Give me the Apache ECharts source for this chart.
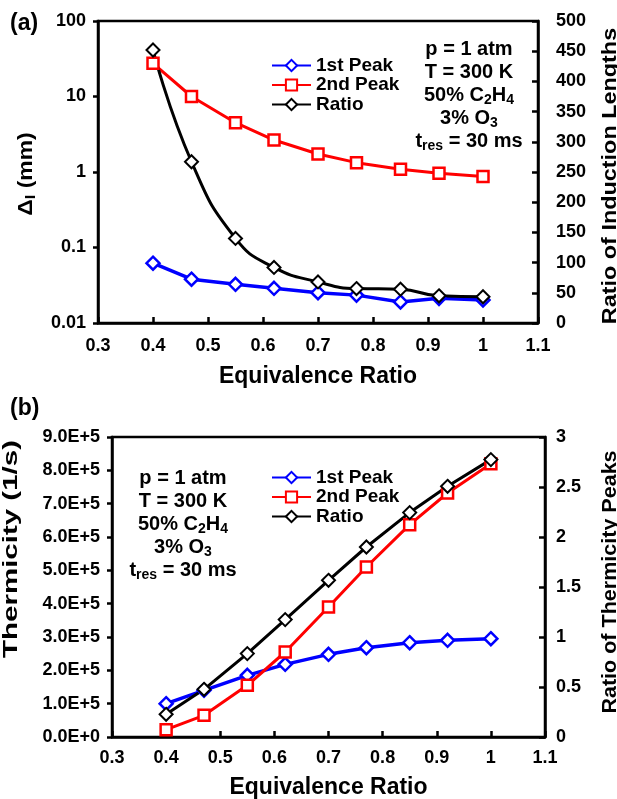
<!DOCTYPE html>
<html><head><meta charset="utf-8">
<script src="https://cdn.jsdelivr.net/npm/echarts@6/dist/echarts.min.js"></script>
<style>html,body{margin:0;padding:0;background:#fff}#c{width:617px;height:799px}</style>
</head><body><div id="c"></div>
<script>
const phi = [0.4, 0.47, 0.55, 0.62, 0.7, 0.77, 0.85, 0.92, 1.0];
// (a) induction lengths (mm) and their ratio
const indFirst = [0.062, 0.038, 0.0325, 0.0288, 0.0252, 0.0234, 0.019, 0.0212, 0.0202];
const indSecond = [27.5, 10, 4.5, 2.65, 1.73, 1.33, 1.09, 0.96, 0.87];
const indRatio = [452, 267, 140, 92, 68, 57, 56, 45, 43.5];
// (b) thermicity peaks (1/s) and their ratio
const thFirst = [1.0e5, 1.4e5, 1.85e5, 2.18e5, 2.48e5, 2.68e5, 2.83e5, 2.9e5, 2.95e5];
const thSecond = [0.22e5, 0.65e5, 1.55e5, 2.55e5, 3.9e5, 5.1e5, 6.37e5, 7.32e5, 8.2e5];
const thRatio = [0.227, 0.477, 0.834, 1.174, 1.567, 1.9, 2.244, 2.507, 2.774];
const legendNames = ['1st Peak', '2nd Peak', 'Ratio'];
const annotation = 'p = 1 atm\nT = 300 K\n50% C{s|2}H{s|4}\n3% O{s|3}\nt{s|res} = 30 ms';

const FF = '"Liberation Sans", Arial, sans-serif';
const pairs = (ys) => phi.map((x, i) => [x, ys[i]]);
const chart = echarts.init(document.getElementById('c'), null, {renderer: 'canvas'});

const baseText = {fontFamily: FF, fontWeight: 'bold', color: '#000'};
function xAx(gi) {
  return {
    type: 'value', gridIndex: gi, min: 0.3, max: 1.1, interval: 0.1,
    name: 'Equivalence Ratio', nameLocation: 'middle', nameGap: gi === 0 ? 42 : 39,
    nameTextStyle: Object.assign({fontSize: 23}, baseText),
    axisLine: {lineStyle: {color: '#000', width: 2.5}},
    axisTick: {inside: true, length: 6, lineStyle: {color: '#000', width: 2.5}},
    axisLabel: Object.assign({fontSize: 18, margin: gi === 0 ? 14 : 12, formatter: v => String(+v.toFixed(1))}, baseText),
    splitLine: {show: false}
  };
}
const sub = {fontSize: 14, fontFamily: FF, fontWeight: 'bold', fill: '#000', color: '#000', lineHeight: 11, verticalAlign: 'bottom'};
function vTitle(text, x, y, size, stretch, rich) {
  return {type: 'text', x: x, y: y, rotation: Math.PI / 2, scaleX: stretch, scaleY: 1, z: 10,
    style: {text: text, align: 'center', verticalAlign: 'middle', fontSize: size, fontFamily: FF, fontWeight: 'bold', fill: '#000',
      lineHeight: 24, rich: rich || {}}};
}
function annot(x, y) {
  return {type: 'text', x: x, y: y, z: 10,
    style: {text: annotation, align: 'center', fontSize: 20, fontFamily: FF, fontWeight: 'bold', fill: '#000', lineHeight: 23,
      rich: {s: Object.assign({}, sub)}}};
}

const option = {
  backgroundColor: '#fff',
  animation: false,
  grid: [
    {left: 98, right: 79, top: 21, height: 302, show: true, borderColor: '#000', borderWidth: 2.5, containLabel: false, outerBoundsMode: 'none'},
    {left: 112, right: 72, top: 437, height: 300, show: true, borderColor: '#000', borderWidth: 2.5, containLabel: false, outerBoundsMode: 'none'}
  ],
  xAxis: [xAx(0), xAx(1)],
  yAxis: [
    {
      type: 'log', logBase: 10, gridIndex: 0, min: 0.01, max: 100,
      axisLine: {lineStyle: {color: '#000', width: 2.5}},
      axisTick: {inside: false, length: 5, lineStyle: {color: '#000', width: 2.5}},
      minorTick: {show: false},
      axisLabel: Object.assign({fontSize: 18, margin: 12, formatter: v => String(+v.toPrecision(3))}, baseText),
      splitLine: {show: false}
    },
    {
      type: 'value', gridIndex: 0, min: 0, max: 500, interval: 50, position: 'right',
      axisLine: {show: true, lineStyle: {color: '#000', width: 2.5}},
      axisTick: {show: true, inside: true, length: 6, lineStyle: {color: '#000', width: 2.5}},
      axisLabel: Object.assign({fontSize: 18, margin: 18}, baseText),
      splitLine: {show: false}
    },
    {
      type: 'value', gridIndex: 1, min: 0, max: 9e5, interval: 1e5,
      axisLine: {lineStyle: {color: '#000', width: 2.5}},
      axisTick: {inside: false, length: 5, lineStyle: {color: '#000', width: 2.5}},
      axisLabel: Object.assign({fontSize: 18, margin: 12, formatter: v => (v / 1e5).toFixed(1) + 'E+' + (v === 0 ? 0 : 5)}, baseText),
      splitLine: {show: false}
    },
    {
      type: 'value', gridIndex: 1, min: 0, max: 3, interval: 0.5, position: 'right',
      axisLine: {show: true, lineStyle: {color: '#000', width: 2.5}},
      axisTick: {show: true, inside: true, length: 6, lineStyle: {color: '#000', width: 2.5}},
      axisLabel: Object.assign({fontSize: 18, margin: 11}, baseText),
      splitLine: {show: false}
    }
  ],
  legend: [
    {orient: 'vertical', left: 266, top: 51, itemWidth: 39, itemHeight: 14, itemGap: 0.5, data: legendNames,
     textStyle: Object.assign({fontSize: 19, lineHeight: 19}, baseText)},
    {orient: 'vertical', left: 266, top: 463, itemWidth: 39, itemHeight: 14, itemGap: 0.5, data: legendNames,
     textStyle: Object.assign({fontSize: 19, lineHeight: 19}, baseText)}
  ],
  graphic: [
    {type: 'text', left: 10, top: 12, style: Object.assign({text: '(a)', fontSize: 23}, baseText, {fill: '#000'})},
    {type: 'text', left: 10, top: 397, style: Object.assign({text: '(b)', fontSize: 23}, baseText, {fill: '#000'})},
    annot(469, 38),
    annot(183, 467),
    vTitle('Δ{si|I} (mm)', 26, 174, 21, 1.09, {si: Object.assign({}, sub, {fontSize: 15, lineHeight: 12})}),
    vTitle('Ratio of Induction Lengths', 610, 176, 20, 1.17),
    vTitle('Thermicity (1/s)', 11, 549, 20, 1.475),
    vTitle('Ratio of Thermicity Peaks', 610, 582, 21, 1.025)
  ],
  series: [
    {name: '1st Peak', type: 'line', xAxisIndex: 0, yAxisIndex: 0, data: pairs(indFirst),
     symbol: 'diamond', symbolSize: 13, lineStyle: {color: '#0000ff', width: 3.5},
     itemStyle: {color: '#fff', borderColor: '#0000ff', borderWidth: 2.5}},
    {name: '2nd Peak', type: 'line', xAxisIndex: 0, yAxisIndex: 0, data: pairs(indSecond),
     symbol: 'rect', symbolSize: 11, lineStyle: {color: '#ff0000', width: 3},
     itemStyle: {color: '#fff', borderColor: '#ff0000', borderWidth: 2.5}},
    {name: 'Ratio', type: 'line', xAxisIndex: 0, yAxisIndex: 1, data: pairs(indRatio), smooth: true,
     symbol: 'diamond', symbolSize: 13, lineStyle: {color: '#000', width: 3},
     itemStyle: {color: '#fff', borderColor: '#000', borderWidth: 2}},
    {name: '1st Peak', type: 'line', xAxisIndex: 1, yAxisIndex: 2, data: pairs(thFirst),
     symbol: 'diamond', symbolSize: 13, lineStyle: {color: '#0000ff', width: 3.5},
     itemStyle: {color: '#fff', borderColor: '#0000ff', borderWidth: 2.5}},
    {name: '2nd Peak', type: 'line', xAxisIndex: 1, yAxisIndex: 2, data: pairs(thSecond),
     symbol: 'rect', symbolSize: 11, lineStyle: {color: '#ff0000', width: 3},
     itemStyle: {color: '#fff', borderColor: '#ff0000', borderWidth: 2.5}},
    {name: 'Ratio', type: 'line', xAxisIndex: 1, yAxisIndex: 3, data: pairs(thRatio),
     symbol: 'diamond', symbolSize: 13, lineStyle: {color: '#000', width: 3},
     itemStyle: {color: '#fff', borderColor: '#000', borderWidth: 2}}
  ]
};
chart.setOption(option);
</script></body></html>
